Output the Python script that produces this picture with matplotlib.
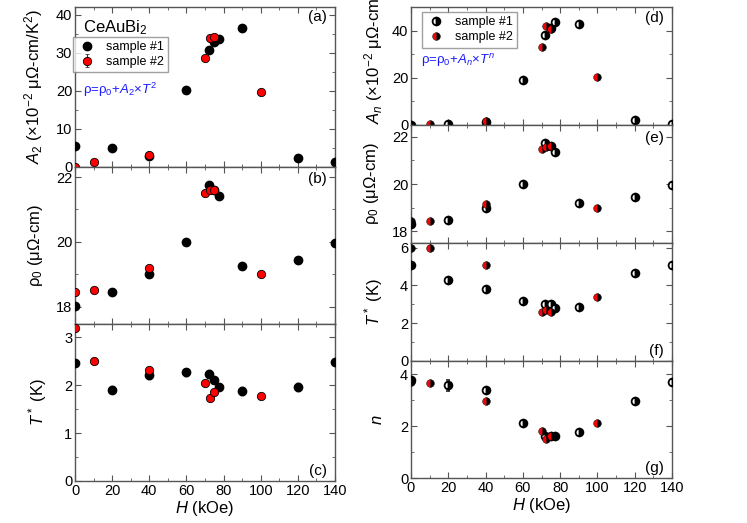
import matplotlib
matplotlib.use('Agg')
import matplotlib.pyplot as plt
from matplotlib.ticker import MultipleLocator

# ---- data: sample #1 (black) and sample #2 (red) ----
h1 = [0, 20, 40, 60, 72, 75, 77.5, 90, 120, 140]
h2 = [0, 10, 40, 70, 72.5, 75, 100]

a2_s1 = [5.5, 5.0, 3.0, 20.3, 30.7, 32.7, 33.5, 36.5, 2.4, 1.2]
a2_s2 = [0.0, 1.4, 3.2, 28.6, 33.8, 34.0, 19.6]
a2_err2 = [0.3, 0.6, 0.6, 0.6, 0.6, 0.6, 0.5]

rho0_s1 = [18.02, 18.45, 19.0, 20.0, 21.77, 21.6, 21.42, 19.27, 19.45, 19.96]
rho0_s2 = [18.45, 18.52, 19.2, 21.5, 21.6, 21.6, 19.0]
rho0_err2 = [0.06, 0.06, 0.06, 0.06, 0.06, 0.06, 0.06]

tstar2_s1 = [2.46, 1.91, 2.21, 2.27, 2.23, 2.1, 1.97, 1.88, 1.96, 2.49]
tstar2_s2 = [3.19, 2.51, 2.32, 2.04, 1.73, 1.86, 1.77]
tstar2_err1 = [0.05, 0.08, 0.08, 0.08, 0.08, 0.05, 0.05, 0.08, 0.08, 0.05]

an_s1 = [0.2, 0.5, 1.4, 19.1, 38.3, 41.0, 43.5, 42.8, 2.1, 0.3]
an_s2 = [0.0, 0.3, 1.7, 32.9, 41.8, 40.7, 20.5]

rho0n_s1 = [18.3, 18.47, 18.97, 20.0, 21.74, 21.6, 21.37, 19.19, 19.43, 19.97]
rho0n_s2 = [18.45, 18.44, 19.15, 21.5, 21.57, 21.63, 18.99]

tstarn_s1 = [5.1, 4.3, 3.8, 3.2, 3.0, 3.0, 2.8, 2.88, 4.66, 5.09]
tstarn_s2 = [6.0, 6.0, 5.1, 2.6, 2.7, 2.6, 3.37]

n_s1 = [3.78, 3.56, 3.37, 2.1, 1.6, 1.6, 1.6, 1.78, 2.98, 3.68]
n_s2 = [3.68, 3.66, 2.96, 1.8, 1.5, 1.6, 2.1]
n_err1 = [0.1, 0.22, 0.05, 0.05, 0.05, 0.05, 0.05, 0.05, 0.05, 0.1]

W, H = 747, 523
fig = plt.figure(figsize=(W / 100, H / 100), dpi=100)
plt.rcParams['font.family'] = ['Liberation Sans', 'DejaVu Sans']
plt.rcParams['mathtext.fontset'] = 'custom'
plt.rcParams['mathtext.rm'] = 'Liberation Sans'
plt.rcParams['mathtext.it'] = 'Liberation Sans:italic'

SPINE = '#555555'
BLUE = '#1a1aff'


def px_axes(x0, y_top, w, h):
    return fig.add_axes([x0 / W, 1 - (y_top + h) / H, w / W, h / H])


def style(ax, ymaj, ymin, ylim, show_x):
    ax.set_xlim(0, 140)
    ax.set_ylim(*ylim)
    ax.xaxis.set_major_locator(MultipleLocator(20))
    ax.xaxis.set_minor_locator(MultipleLocator(10))
    ax.yaxis.set_major_locator(MultipleLocator(ymaj))
    ax.yaxis.set_minor_locator(MultipleLocator(ymin))
    ax.tick_params(which='both', direction='in', top=True, right=True,
                   color=SPINE, labelsize=10.5, pad=2)
    ax.tick_params(which='major', length=4)
    ax.tick_params(which='minor', length=2.5)
    for s in ax.spines.values():
        s.set_color(SPINE)
        s.set_linewidth(1)
    if not show_x:
        ax.tick_params(labelbottom=False)
    else:
        ax.set_xlabel('$H$ (kOe)', fontsize=12, labelpad=1)


def full(ax, x1, y1, x2, y2, err1=None, err2=None):
    ax.errorbar(x1, y1, yerr=err1, fmt='o', ms=6, mfc='black', mec='black',
                ecolor='#333333', elinewidth=0.8, capsize=1.5, label='sample #1',
                zorder=3)
    ax.errorbar(x2, y2, yerr=err2, fmt='o', ms=6, mfc='red', mec='black',
                mew=0.6, ecolor='#333333', elinewidth=0.8, capsize=1.5,
                label='sample #2', zorder=4)


def half(ax, x1, y1, x2, y2, err1=None):
    ax.errorbar(x1, y1, yerr=err1, fmt='o', ms=5.6, fillstyle='right',
                mfc='black', mfcalt='white', mec='black', mew=1.3,
                ecolor='#333333', elinewidth=0.8, capsize=1.5,
                label='sample #1', zorder=3)
    ax.errorbar(x2, y2, fmt='o', ms=5.6, fillstyle='right', mfc='black',
                mfcalt='red', mec='black', mew=0.3, label='sample #2',
                zorder=4)


def add_legend(ax, anchor):
    handles, labels = ax.get_legend_handles_labels()
    leg = ax.legend(handles, labels, loc='upper left', bbox_to_anchor=anchor,
                    frameon=True, fancybox=False, edgecolor='#888888',
                    fontsize=9, handletextpad=0.8, borderpad=0.35,
                    labelspacing=0.25, handlelength=1.5, borderaxespad=0)
    leg.get_frame().set_linewidth(1)


# ---- left column ----
axa = px_axes(75, 7, 260, 160)
axb = px_axes(75, 167, 260, 157)
axc = px_axes(75, 324, 260, 157)

full(axa, h1, a2_s1, h2, a2_s2, err2=a2_err2)
style(axa, 10, 5, (0, 42), False)
axa.set_ylabel('$A_2$ (×10$^{-2}$ μΩ-cm/K$^2$)', fontsize=12)
axa.text(0.03, 0.87, 'CeAuBi$_2$', transform=axa.transAxes, fontsize=12,
         va='center')
axa.text(0.03, 0.48, 'ρ=ρ$_0$+$A_2$×$T^2$', transform=axa.transAxes,
         fontsize=9.5, color=BLUE, va='center')
axa.text(0.97, 0.91, '(a)', transform=axa.transAxes, fontsize=11, ha='right')
add_legend(axa, (-0.008, 0.815))

full(axb, h1, rho0_s1, h2, rho0_s2, err2=rho0_err2)
style(axb, 2, 1, (17.47, 22.31), False)
axb.set_ylabel('ρ$_0$ (μΩ-cm)', fontsize=12)
axb.text(0.97, 0.9, '(b)', transform=axb.transAxes, fontsize=11, ha='right')

full(axc, h1, tstar2_s1, h2, tstar2_s2, err1=tstar2_err1)
style(axc, 1, 0.5, (0, 3.28), True)
axc.set_ylabel('$T^*$ (K)', fontsize=12)
axc.text(0.97, 0.04, '(c)', transform=axc.transAxes, fontsize=11, ha='right')

axa.yaxis.set_label_coords(-0.115, 0.5)
axb.yaxis.set_label_coords(-0.115, 0.5)
axc.yaxis.set_label_coords(-0.1, 0.5)

# ---- right column ----
axd = px_axes(411, 7, 261, 118)
axe = px_axes(411, 125, 261, 118)
axf = px_axes(411, 243, 261, 118)
axg = px_axes(411, 361, 261, 117)

half(axd, h1, an_s1, h2, an_s2)
style(axd, 20, 10, (0, 50), False)
axd.set_ylabel('$A_n$ (×10$^{-2}$ μΩ-cm/K$^2$)', fontsize=12)
axd.text(0.04, 0.55, 'ρ=ρ$_0$+$A_n$×$T^n$', transform=axd.transAxes,
         fontsize=9.5, color=BLUE, va='center')
axd.text(0.97, 0.87, '(d)', transform=axd.transAxes, fontsize=11, ha='right')
add_legend(axd, (0.042, 0.958))

half(axe, h1, rho0n_s1, h2, rho0n_s2)
style(axe, 2, 1, (17.5, 22.5), False)
axe.set_ylabel('ρ$_0$ (μΩ-cm)', fontsize=12)
axe.text(0.97, 0.86, '(e)', transform=axe.transAxes, fontsize=11, ha='right')

half(axf, h1, tstarn_s1, h2, tstarn_s2)
style(axf, 2, 1, (0, 6.25), False)
axf.set_ylabel('$T^*$ (K)', fontsize=12)
axf.text(0.97, 0.05, '(f)', transform=axf.transAxes, fontsize=11, ha='right')

half(axg, h1, n_s1, h2, n_s2, err1=n_err1)
style(axg, 2, 1, (0, 4.5), True)
axg.set_ylabel('$n$', fontsize=12)
axg.text(0.97, 0.05, '(g)', transform=axg.transAxes, fontsize=11, ha='right')

axd.yaxis.set_label_coords(-0.1, 0.66)
axe.yaxis.set_label_coords(-0.115, 0.5)
axf.yaxis.set_label_coords(-0.1, 0.5)
axg.yaxis.set_label_coords(-0.1, 0.5)

fig.savefig('out.png', dpi=100)
